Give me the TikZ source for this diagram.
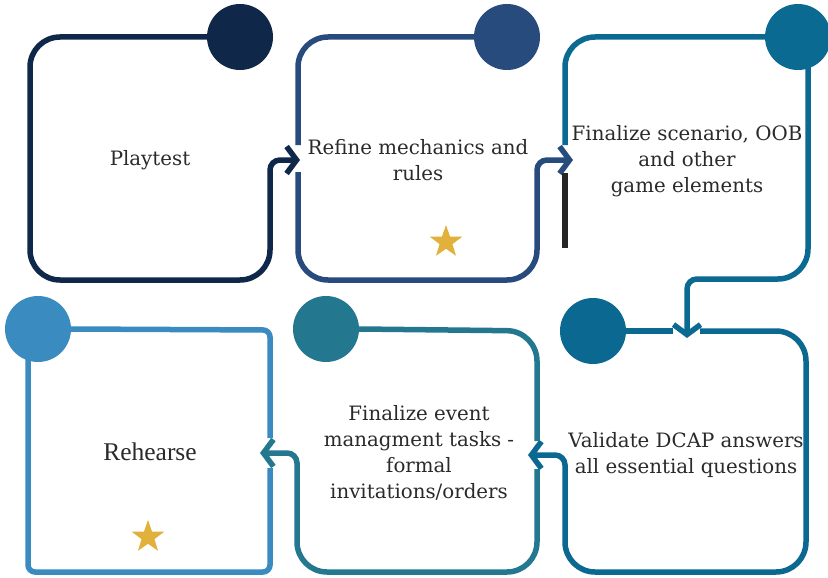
\documentclass[tikz,border=0pt]{standalone}
\usepackage{fontspec}
\newfontfamily\stepfont{DejaVu Serif}
\newfontfamily\rehearsefont{Liberation Serif}
\usetikzlibrary{arrows.meta, shapes.geometric}
\definecolor{cOne}{HTML}{0F2849}
\definecolor{cTwo}{HTML}{284B7D}
\definecolor{cThree}{HTML}{0B6A92}
\definecolor{cSix}{HTML}{0B6891}
\definecolor{cFive}{HTML}{23788F}
\definecolor{cFour}{HTML}{3A8BC0}
\definecolor{gold}{HTML}{E1B13B}
\definecolor{txt}{HTML}{2A2A2A}

\begin{document}
\begin{tikzpicture}[x=1pt, y=-1pt]
		
		% Setup the styles
		\tikzset{dot/.style={circle, minimum size=66pt, inner sep=0pt, fill=#1},
			box line/.style={line width=5.5pt, draw=#1, rounded corners=30pt},
			flow/.style={-{Straight Barb[length=10pt, width=27pt]}},
			label text/.style={text=txt, align=center,
				font=\stepfont\fontsize{19.8}{26}\selectfont},
			rehearse text/.style={text=txt, font=\rehearsefont\fontsize{25.5}{28}\selectfont},
			gold star/.style={star, star points=5, star point ratio=2.5,
				minimum size=34pt, inner sep=0pt, fill=gold}}
		
		\useasboundingbox (0, 0) rectangle (828, 578);
		
		% Draw the circles
		\node[dot=cOne]   at (240, 37)  (c1) {};
		\node[dot=cTwo]   at (507, 37)  (c2) {};
		\node[dot=cThree] at (798, 37)  (c3) {};
		\node[dot=cSix]   at (593, 331) (c6) {};
		\node[dot=cFive]  at (326, 329) (c5) {};
		\node[dot=cFour]  at (38, 329)  (c4) {};
		
		% Arrow targets
		\coordinate (in2) at (300, 160);
		\coordinate (in3) at (573, 160);
		\coordinate (in6) at (687, 338);
		\coordinate (in5) at (528, 455);
		\coordinate (in4) at (260, 453);
		
		% Draw the boxes and their arrows
		\draw[box line=cOne, flow] (c1.west) -- (30, 37) -- (30, 280) -- (270, 280)
		[rounded corners=10pt] -- (270, 160) -- (in2);
		
		\draw[box line=cTwo] (c2.west) -- (298, 37) -- (298, 145);
		\draw[box line=cTwo, flow] (298, 172) -- (298, 280) -- (537, 280)
		[rounded corners=10pt] -- (537, 160) -- (in3);
		
		\draw[box line=cThree] (565, 145) -- (565, 37) -- (c3.west);
		\draw[line width=5.5pt, draw=black!85] (565, 173) -- (565, 248);
		\draw[box line=cThree, flow] ([xshift=10pt]c3.center) -- (808, 279)
		[rounded corners=10pt] -- (687, 279) -- (in6);
		
		\draw[box line=cSix] (c6.east) -- (673, 331);
		\draw[box line=cSix, flow] (700, 331) -- (806, 331) -- (806, 572) -- (565, 572)
		[rounded corners=10pt] -- (565, 455) -- (in5);
		
		\draw[box line=cFive] (c5.east) -- (537, 331) -- (537, 441);
		\draw[box line=cFive, flow] (537, 469) -- (537, 572) -- (297, 572)
		[rounded corners=10pt] -- (297, 453) -- (in4);
		
		\draw[box line=cFour, rounded corners=7pt] (c4.east) -- (270, 330) -- (270, 438);
		\draw[box line=cFour, rounded corners=7pt] (270, 468) -- (270, 572) -- (28, 572)
		-- ([xshift=-10pt]c4.center);
		
		% Draw the texts
		\node[label text] at (150, 160) (playtest) {Playtest};
		\node[label text] at (418, 160) (refine) {Refine mechanics and\\rules};
		\node[label text] at (687, 161) (scenario) {Finalize scenario, OOB\\and other\\game elements};
		\node[label text] at (686, 455) (validate) {Validate DCAP answers\\all essential questions};
		\node[label text] at (419, 453) (event) {Finalize event\\managment tasks -\\formal\\invitations/orders};
		\node[rehearse text] at (150, 452) (rehearse) {Rehearse};
		
		% Stars
		\node[gold star] at (446, 242) (star2) {};
		\node[gold star] at (148, 537) (star4) {};
		
\end{tikzpicture}
\end{document}
